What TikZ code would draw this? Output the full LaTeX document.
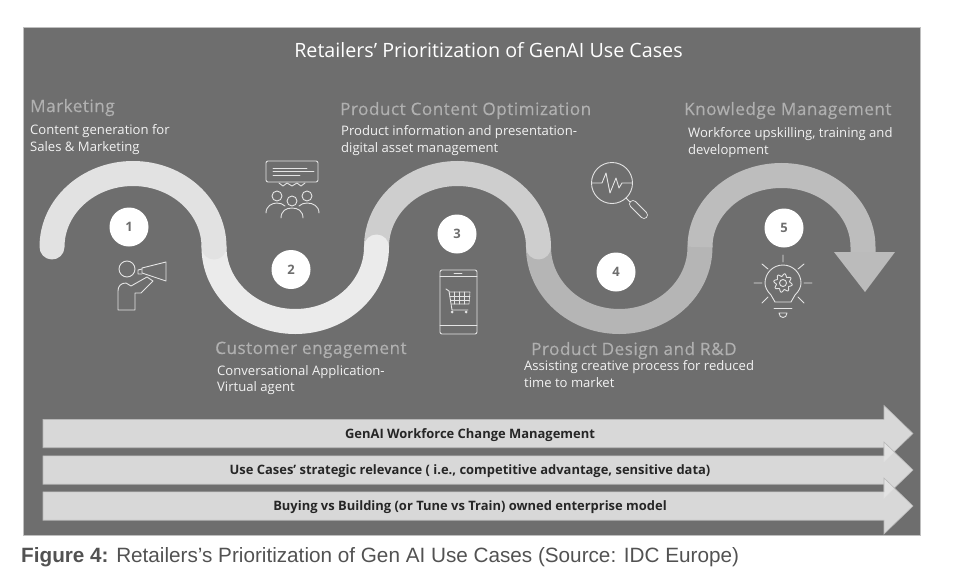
\documentclass[tikz,border=0pt]{standalone}
\usepackage{fontspec}
\setmainfont{Open Sans}
\newfontfamily\headfont[LetterSpace=3,FakeBold=0.35]{Open Sans}
\newfontfamily\capfont{Liberation Sans}
\definecolor{panelgray}{HTML}{6E6E6E}
\definecolor{headgray}{HTML}{B0B0B0}
\definecolor{linegray}{HTML}{E4E4E4}
\tikzset{
  ribbon/.style={line width=25pt,line cap=round},
  iconline/.style={draw=linegray,line width=0.9pt,line cap=round,line join=round},
  numcircle/.style={circle,fill=white,minimum size=39pt,inner sep=0pt,text=panelgray,font=\fontsize{13}{13}\selectfont\bfseries},
  headtxt/.style={anchor=base west,inner sep=0pt,text=headgray,font=\headfont\fontsize{17.1}{17.1}\selectfont},
  bodytxt/.style={anchor=north west,inner sep=0pt,align=left,text=white!95!black,font=\fontsize{13.1}{16.5}\selectfont},
  bartxt/.style={inner sep=0pt,text=black!85,font=\fontsize{12.95}{12.95}\selectfont\bfseries},
}
\begin{document}
\begin{tikzpicture}[x=1pt,y=1pt,yscale=-1,xscale=1]
\useasboundingbox (0,0) rectangle (962,573);

%Panel
\draw [draw=white!75!black,fill=panelgray] (23,27) rectangle (920,535);
\node [anchor=base,inner sep=0pt,text=white,font=\fontsize{19.7}{19.7}\selectfont] (title) at (488.5,57.5) {Retailers’ Prioritization of GenAI Use Cases};

%Ribbon, last piece first
\draw [ribbon,color={rgb,255:red,181;green,181;blue,181}] (538.5,247) arc[start angle=180,end angle=0,x radius=80.75,y radius=74.5];
\draw [ribbon,line cap=butt,color={rgb,255:red,189;green,189;blue,189}] (700,247) arc[start angle=180,end angle=360,x radius=81.5,y radius=71.5] -- (863,253);
\fill [color={rgb,255:red,187;green,187;blue,187}] (834,252) -- (895,252) -- (865,292) -- cycle;
\draw [ribbon,color={rgb,255:red,206;green,206;blue,206}] (376.5,247) arc[start angle=180,end angle=360,x radius=81,y radius=73.5];
\draw [ribbon,color={rgb,255:red,235;green,235;blue,235}] (214,247) arc[start angle=180,end angle=0,x radius=81.25,y radius=74.5];
\draw [ribbon,color={rgb,255:red,226;green,226;blue,226}] (52,247) arc[start angle=180,end angle=360,x radius=81,y radius=73.5];

%Numbers
\node [numcircle] (one) at (129,227) {1};
\node [numcircle] (two) at (291,269.5) {2};
\node [numcircle] (three) at (457,234) {3};
\node [numcircle] (four) at (616,272) {4};
\node [numcircle] (five) at (784,228) {5};

%Marketing
\node [headtxt] (markethead) at (30,112) {Marketing};
\node [bodytxt] (marketbody) at (30,124.5) {Content generation for\\Sales \& Marketing};
\node [headtxt] (contenthead) at (340,115) {Product Content Optimization};
\node [bodytxt] (contentbody) at (341,125.5) {Product information and presentation-\\digital asset management};
\node [headtxt] (knowhead) at (684,115) {Knowledge Management};
\node [bodytxt] (knowbody) at (688,127.5) {Workforce upskilling, training and\\development};
\node [headtxt] (custhead) at (215,354) {Customer engagement};
\node [bodytxt] (custbody) at (217,365) {Conversational Application-\\Virtual agent};
\node [headtxt] (designhead) at (531,355) {Product Design and R\&D};
\node [bodytxt] (designbody) at (524,360.5) {Assisting creative process for reduced\\time to market};

%Megaphone
\draw [iconline] (127,269) circle (8);
\draw [iconline] (118,310) -- (118,291) .. controls (118,286) and (121,283) .. (126,283) -- (131,286) -- (147,277) -- (153,281) -- (141,293) -- (135,293) -- (135,310) -- cycle;
\draw [iconline] (142,268) -- (166,262) -- (166,281) -- (142,273) -- cycle;
\draw [iconline] (142,269) -- (138,270) -- (138,274) -- (142,274);

%Chat and people
\draw [iconline,rounded corners=2] (266,161) rectangle (318,182);
\draw [iconline] (273,168) -- (307,168) (273,171.5) -- (314,171.5) (273,175) -- (300,175);
\draw [iconline] (279,183) -- (283,186) -- (287,183) -- (292,186) -- (297,183) -- (301,186) -- (305,183);
\foreach \hx/\hy in {277/196,292/201,307/196}
  \draw [iconline] (\hx,\hy) circle (5);
\draw [iconline] (266,213) .. controls (266,206) and (272,203) .. (277,203) .. controls (280,203) and (283,204) .. (285,206);
\draw [iconline] (319,213) .. controls (319,206) and (313,203) .. (307,203) .. controls (304,203) and (301,204) .. (299,206);
\draw [iconline] (281,218) .. controls (281,211) and (286,208) .. (292,208) .. controls (298,208) and (303,211) .. (303,218);

%Phone with cart
\draw [iconline,rounded corners=2] (440,270) rectangle (477,334);
\draw [iconline] (440,276) -- (477,276) (440,325) -- (477,325);
\draw [iconline] (454,273) -- (462,273);
\draw [iconline] (446,289) -- (449,291) -- (452,310) -- (468,310);
\draw [iconline,line width=0.6pt] (449.5,292) -- (470,292) -- (469,304) -- (451.5,304);
\foreach \gx in {454,459,464}
  \draw [iconline,line width=0.6pt] (\gx,292) -- (\gx,304);
\draw [iconline,line width=0.6pt] (450,296) -- (470,296) (451,300) -- (469.5,300);
\fill [linegray] (452,312) circle (1.5) (466,312) circle (1.5);

%Magnifier
\draw [iconline] (612,183) circle (20.5);
\draw [iconline] (592,183) -- (602,183) -- (606,173) -- (610,193) -- (616,178) -- (619,188) -- (622,183) -- (632,183);
\draw [iconline] (626,198) -- (630,202);
\draw [iconline,double=panelgray,double distance=6pt] (633,204) -- (644,215);

%Bulb
\draw [iconline] (775,302) -- (771,295) .. controls (767,291) and (765,287) .. (765,283) arc[start angle=180,end angle=360,radius=18] .. controls (801,287) and (799,291) .. (795,295) -- (791,302) -- cycle;
\draw [iconline] (783,283) circle (3.5);
\draw [iconline] plot[domain=0:360,samples=97] ({783+(8+1.3*sin(8*\x))*cos(\x)},{283+(8+1.3*sin(8*\x))*sin(\x)}) -- cycle;
\draw [iconline] (774,308) -- (792,308);
\draw [iconline] (779,313) -- (787,313) .. controls (787,316) and (785,317.5) .. (783,317.5) .. controls (781,317.5) and (779,316) .. (779,313) -- cycle;
\draw [iconline] (783,255) -- (783,262) (762,264) -- (768,269) (804,264) -- (798,269) (754,283) -- (762,283) (804,283) -- (812,283) (762,303) -- (768,297) (804,303) -- (798,297);

%Bars
\foreach \bname/\by/\btxt in {barone/433.5/{GenAI Workforce Change Management},bartwo/470/{Use Cases’ strategic relevance ( i.e., competitive advantage, sensitive data)},barthree/506/{Buying vs Building (or Tune vs Train) owned enterprise model}}{
  \draw [draw=white!72!black,line width=0.6pt,fill=linegray,fill opacity=0.9] (43,\by-14.2) -- (884,\by-14.2) -- (884,\by-28) -- (913,\by) -- (884,\by+28) -- (884,\by+14.2) -- (43,\by+14.2) -- cycle;
  \node [bartxt,anchor=base] (\bname) at (470,\by+4.5) {\btxt};
}

%Caption
\node [anchor=base west,inner sep=0pt,text=black!68,font=\capfont\fontsize{20.7}{20.7}\selectfont] (caption) at (21,562) {\textbf{Figure 4:} Retailers’s Prioritization of Gen AI Use Cases (Source: IDC Europe)};
\end{tikzpicture}
\end{document}
